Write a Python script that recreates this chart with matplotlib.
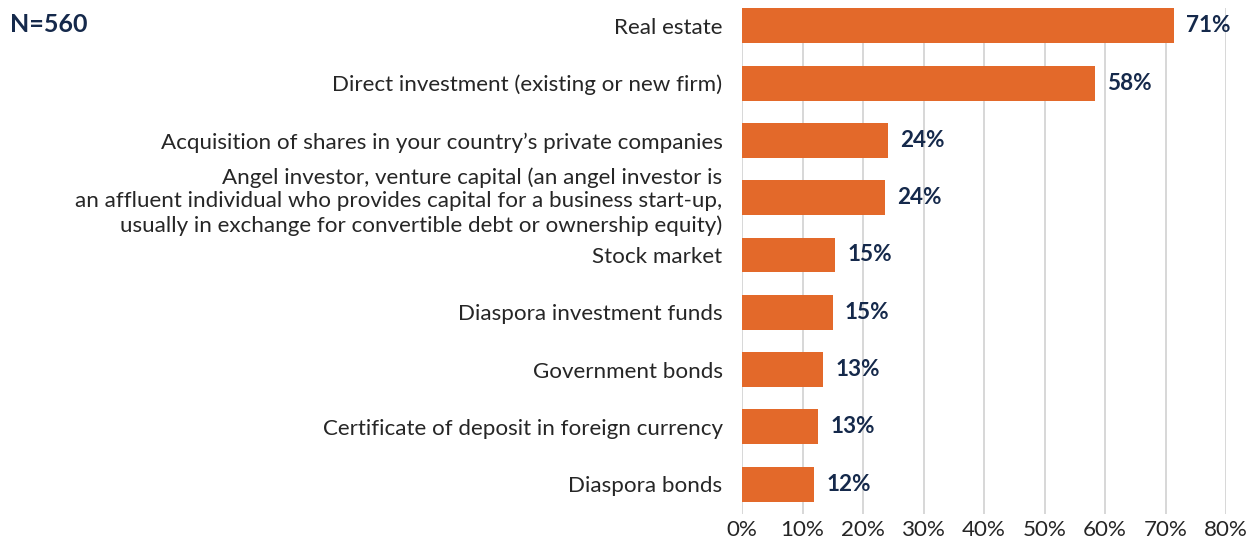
import matplotlib
matplotlib.use("Agg")
from matplotlib import pyplot as plt
from matplotlib.ticker import FuncFormatter

categorias = [
    "Real estate",
    "Direct investment (existing or new firm)",
    "Acquisition of shares in your country\u2019s private companies",
    "Angel investor, venture capital (an angel investor is\n"
    "an affluent individual who provides capital for a business start-up,\n"
    "usually in exchange for convertible debt or ownership equity)",
    "Stock market",
    "Diaspora investment funds",
    "Government bonds",
    "Certificate of deposit in foreign currency",
    "Diaspora bonds",
]
valores = [71.4, 58.3, 24.2, 23.7, 15.4, 15.0, 13.4, 12.6, 11.9]
etiquetas = ["71%", "58%", "24%", "24%", "15%", "15%", "13%", "13%", "12%"]
ticksX = [0, 10, 20, 30, 40, 50, 60, 70, 80]

naranja = "#E3692A"
azulOscuro = "#15294B"
grisTexto = "#262626"
fuente = "Lato"

fig = plt.figure(figsize=(12.46, 5.41), dpi=100)
ax = fig.add_axes([742 / 1246, 1 - 514 / 541, (1226 - 742) / 1246, (514 - 8) / 541])

pos = list(range(len(categorias)))
ax.barh(pos, valores, height=0.61, color=naranja, zorder=3)

# etiquetas de valor al final de cada barra
for p, v, e in zip(pos, valores, etiquetas):
    ax.text(v + 2.0, p, e, va="center", ha="left", fontsize=16.2, fontweight="bold",
            color=azulOscuro, family=fuente)

ax.set_xlim(0, 80)
ax.set_ylim(8.52, -0.31)
ax.set_xticks(ticksX)
ax.xaxis.set_major_formatter(FuncFormatter(lambda x, _: f"{int(x)}%"))
ax.set_yticks(pos)
ax.set_yticklabels(categorias, fontsize=16.1, color=grisTexto, family=fuente,
                   linespacing=1.22)
for lbl in ax.get_xticklabels():
    lbl.set_family(fuente)
    lbl.set_fontsize(16.1)
    lbl.set_color(grisTexto)

ax.tick_params(axis="y", length=0, pad=14)
ax.tick_params(axis="x", length=0, pad=4)
ax.grid(axis="x", color="#d4d4d4", linewidth=1.3, zorder=0)
for s in ax.spines.values():
    s.set_visible(False)

fig.text(10 / 1246, 1 - 24 / 541, "N=560", fontsize=18, fontweight="bold",
         color=azulOscuro, family=fuente, va="center", ha="left")

fig.savefig("out.png", dpi=100)
